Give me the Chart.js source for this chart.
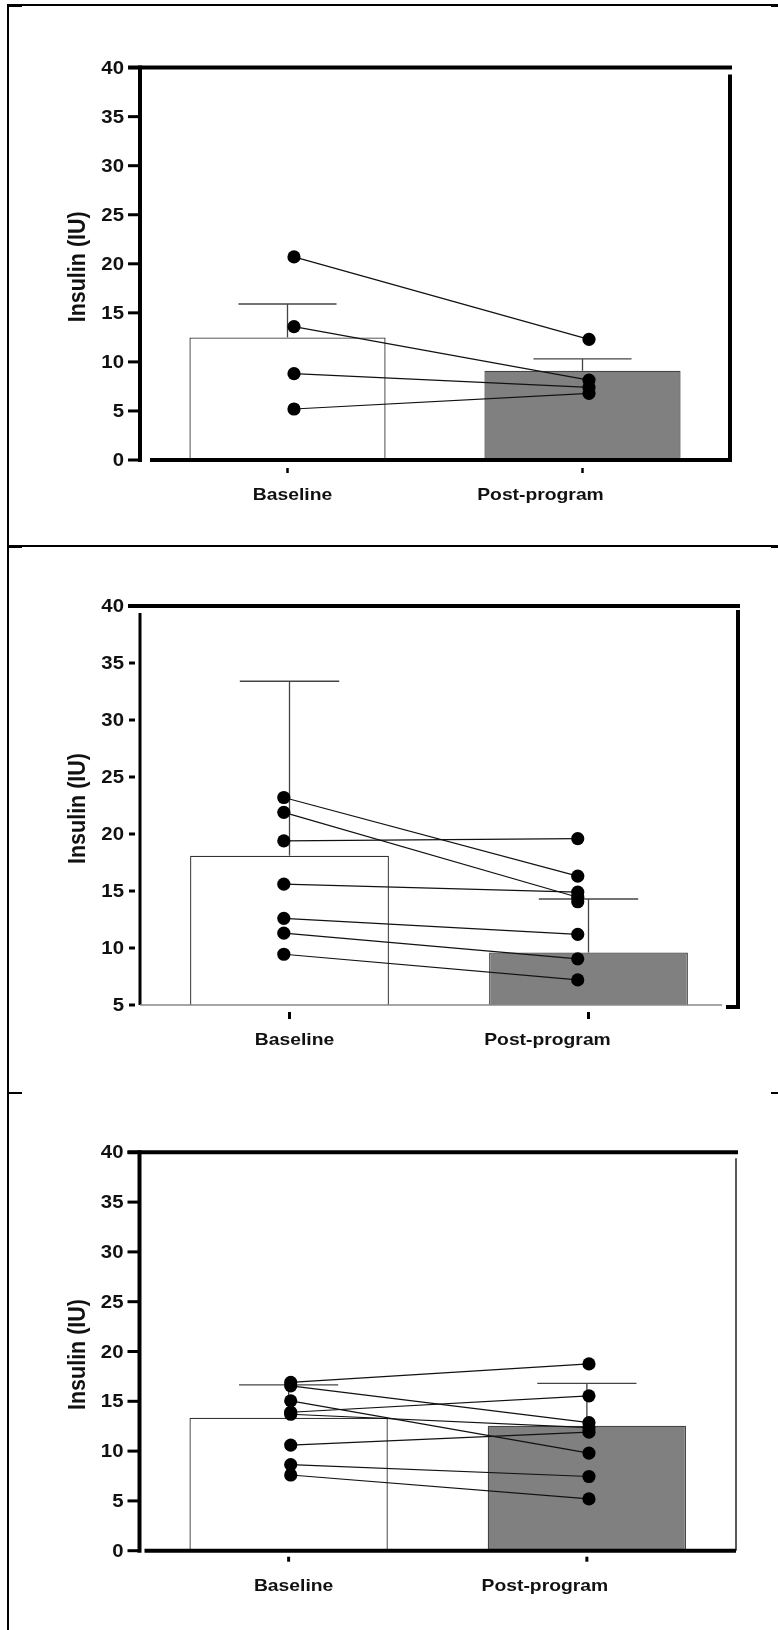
<!DOCTYPE html>
<html>
<head>
<meta charset="utf-8">
<script src="https://cdn.jsdelivr.net/npm/chart.js@4.4.1/dist/chart.umd.min.js"></script>
<style>
    html, body { margin: 0; padding: 0; background: #fff; }
    #page { position: relative; width: 778px; height: 1630px; overflow: hidden; background: #fff; }
    canvas { position: absolute; left: 0; }
    .ln { position: absolute; background: #000; z-index: 2; }
</style>
</head>
<body>
<div id="page">
    <canvas id="panel1" width="778" height="545" style="top:0px"></canvas>
    <canvas id="panel2" width="778" height="545" style="top:546px"></canvas>
    <canvas id="panel3" width="778" height="538" style="top:1092px"></canvas>

    <!-- figure frame -->
    <div class="ln" style="left:7px;top:4px;width:2px;height:1626px"></div>
    <div class="ln" style="left:7px;top:4px;width:771px;height:2px"></div>
    <div class="ln" style="left:7px;top:4px;width:15px;height:3px"></div>
    <div class="ln" style="left:771px;top:4px;width:7px;height:3px"></div>
    <div class="ln" style="left:7px;top:545px;width:771px;height:2px"></div>
    <div class="ln" style="left:7px;top:545px;width:15px;height:3px"></div>
    <div class="ln" style="left:771px;top:545px;width:7px;height:3px"></div>
    <div class="ln" style="left:7px;top:1092px;width:15px;height:2px"></div>
    <div class="ln" style="left:771px;top:1092px;width:7px;height:2px"></div>
</div>

<script>
const CATEGORIES = ['Baseline', 'Post-program'];
const Y_TITLE = 'Insulin (IU)';

// Panel 1
const P1_TICKS = [0, 5, 10, 15, 20, 25, 30, 35, 40];
const P1_MEAN = [12.5, 9.1];
const P1_SEM = [3.4, 1.2];
const P1_BASELINE = [20.7, 13.6, 8.8, 5.2];
const P1_POST = [12.3, 8.15, 7.4, 6.8];

// Panel 2
const P2_TICKS = [5, 10, 15, 20, 25, 30, 35, 40];
const P2_MEAN = [18.1, 9.6];
const P2_SEM = [15.3, 4.7];
const P2_BASELINE = [23.2, 21.9, 19.4, 15.6, 12.6, 11.3, 9.45, null];
const P2_POST = [16.3, 14.45, 19.6, 14.9, 11.2, 9.05, 7.2, 14.06];

// Panel 3
const P3_TICKS = [0, 5, 10, 15, 20, 25, 30, 35, 40];
const P3_MEAN = [13.35, 12.55];
const P3_SEM = [3.3, 4.25];
const P3_BASELINE = [16.9, 16.55, 15.05, 13.9, 13.7, 10.6, 8.65, 7.6];
const P3_POST = [18.75, 12.85, 9.8, 15.55, 12.35, 11.9, 7.45, 5.2];

const FONT = "'Liberation Sans', Arial, sans-serif";

function seg(ctx, x1, y1, x2, y2, w, color) {
    ctx.beginPath();
    ctx.lineWidth = w;
    ctx.strokeStyle = color || '#000';
    ctx.moveTo(x1, y1);
    ctx.lineTo(x2, y2);
    ctx.stroke();
}

// stretched text (the source figure is a little wider than it is tall)
function wideText(ctx, txt, x, y, sx) {
    ctx.save();
    ctx.translate(x, y);
    ctx.scale(sx, 1);
    ctx.fillText(txt, 0, 0);
    ctx.restore();
}

// axis frame, GraphPad style (each panel drawn a bit differently)
function drawFrame(chart, style) {
    const ctx = chart.ctx;
    const { left: l, right: r, top: t, bottom: b } = chart.chartArea;
    const y = chart.scales.y;
    const x = chart.scales.x;
    ctx.save();
    ctx.lineCap = 'butt';
    if (style === 'a') {
        seg(ctx, l - 12, t, r + 2, t, 4);
        seg(ctx, r, t + 7, r, b + 2, 4);
        seg(ctx, l, t - 2, l, b + 2, 4);
        seg(ctx, l + 10, b, r + 2, b, 4);
        y.ticks.forEach(tk => { const py = y.getPixelForValue(tk.value); seg(ctx, l - 12, py, l, py, 3); });
        CATEGORIES.forEach((c, i) => { const px = x.getPixelForValue(i); seg(ctx, px, b + 8, px, b + 13, 2.5); });
    } else if (style === 'b') {
        seg(ctx, l - 12, t, r + 2, t, 4);
        seg(ctx, r, t + 4, r, b + 4, 4);
        seg(ctx, r - 12, b + 2, r + 2, b + 2, 4);
        seg(ctx, l, t + 7, l, b, 3);
        seg(ctx, l, b, r - 16, b, 1.5, '#888');
        y.ticks.forEach(tk => { const py = y.getPixelForValue(tk.value); seg(ctx, l - 11, py, l - 5, py, 3); });
        CATEGORIES.forEach((c, i) => { const px = x.getPixelForValue(i); seg(ctx, px, b + 7, px, b + 14, 3); });
    } else {
        seg(ctx, l - 12, t, r + 2, t, 4);
        seg(ctx, r, t + 6, r, b, 1.5, '#222');
        seg(ctx, l, t - 2, l, b + 2, 4);
        seg(ctx, l + 5, b, r, b, 4);
        y.ticks.forEach(tk => { const py = y.getPixelForValue(tk.value); seg(ctx, l - 12, py, l, py, 3); });
        CATEGORIES.forEach((c, i) => { const px = x.getPixelForValue(i); seg(ctx, px, b + 6, px, b + 11, 3); });
    }
    ctx.restore();
}

function buildPanel(id, p) {
    const canvas = document.getElementById(id);
    const W = canvas.width, H = canvas.height;

    const pairSets = p.baseline.map((v, i) => ({
        type: 'line',
        xAxisID: 'xp',
        data: [{ x: 0 + p.shift[0], y: v }, { x: 1 + p.shift[1], y: p.post[i] }],
        borderColor: '#111',
        borderWidth: 1.2,
        pointRadius: 6.6,
        pointHoverRadius: 6.6,
        pointBackgroundColor: '#000',
        pointBorderWidth: 0,
        spanGaps: false,
        order: 1
    }));

    const errorBars = {
        id: 'errorBars',
        afterDatasetDraw(chart, args) {
            if (args.index !== 0) return;
            const ctx = chart.ctx;
            const ys = chart.scales.y;
            ctx.save();
            args.meta.data.forEach((bar, i) => {
                const top = ys.getPixelForValue(p.mean[i] + p.sem[i]);
                const half = bar.width / 4;
                seg(ctx, bar.x, bar.y, bar.x, top, 1.3, '#444');
                seg(ctx, bar.x - half, top, bar.x + half, top, 1.3, '#444');
            });
            ctx.restore();
        }
    };

    const decorations = {
        id: 'decorations',
        afterDraw(chart) {
            const ctx = chart.ctx;
            const { left: l, top: t, bottom: b } = chart.chartArea;
            drawFrame(chart, p.frame);

            // y tick labels
            const ys = chart.scales.y;
            ctx.save();
            ctx.fillStyle = '#111';
            ctx.font = 'bold 18.5px ' + FONT;
            ctx.textAlign = 'right';
            ctx.textBaseline = 'middle';
            p.ticks.forEach(v => wideText(ctx, String(v), l - 16, ys.getPixelForValue(v) + 1, 1.1));
            ctx.restore();

            // y axis title
            ctx.save();
            ctx.fillStyle = '#111';
            ctx.font = 'bold 21.5px ' + FONT;
            ctx.textAlign = 'center';
            ctx.textBaseline = 'middle';
            ctx.translate(79, (t + b) / 2 + 3);
            ctx.rotate(-Math.PI / 2);
            ctx.scale(1, 1.08);
            ctx.fillText(Y_TITLE, 0, 0);
            ctx.restore();

            // category labels
            const xs = chart.scales.x;
            ctx.save();
            ctx.fillStyle = '#111';
            ctx.font = 'bold 16.5px ' + FONT;
            ctx.textAlign = 'center';
            ctx.textBaseline = 'alphabetic';
            CATEGORIES.forEach((c, i) => {
                wideText(ctx, c, xs.getPixelForValue(i) + p.labelShift[i], b + 40, 1.17);
            });
            ctx.restore();
        }
    };

    new Chart(canvas, {
        type: 'bar',
        data: {
            labels: CATEGORIES,
            datasets: [{
                data: p.mean,
                backgroundColor: ['#ffffff', '#808080'],
                borderColor: ['#333333', '#444444'],
                borderWidth: 1.3,
                barPercentage: 0.665,
                categoryPercentage: 1,
                grouped: false,
                order: 2
            }, ...pairSets]
        },
        options: {
            responsive: false,
            animation: false,
            events: [],
            layout: {
                padding: { left: 0, top: p.area.top, right: W - p.area.right, bottom: H - p.area.bottom }
            },
            plugins: {
                legend: { display: false },
                tooltip: { enabled: false }
            },
            scales: {
                x: { type: 'category', display: false, offset: true },
                xp: { type: 'linear', display: false, offset: false, min: -0.5, max: 1.5 },
                y: {
                    min: p.ticks[0],
                    max: p.ticks[p.ticks.length - 1],
                    afterBuildTicks: s => { s.ticks = p.ticks.map(v => ({ value: v })); },
                    afterFit: s => { s.width = p.area.left; },
                    grid: { display: false, drawTicks: false },
                    border: { display: false },
                    ticks: { display: false }
                }
            }
        },
        plugins: [errorBars, decorations]
    });
}

document.addEventListener('DOMContentLoaded', function () {
    buildPanel('panel1', {
        ticks: P1_TICKS, mean: P1_MEAN, sem: P1_SEM, baseline: P1_BASELINE, post: P1_POST,
        area: { left: 140, right: 730, top: 67.6, bottom: 460 },
        shift: [0.022, 0.022], labelShift: [5, -42], frame: 'a'
    });
    buildPanel('panel2', {
        ticks: P2_TICKS, mean: P2_MEAN, sem: P2_SEM, baseline: P2_BASELINE, post: P2_POST,
        area: { left: 140, right: 738, top: 60, bottom: 459 },
        shift: [-0.019, -0.036], labelShift: [5, -41], frame: 'b'
    });
    buildPanel('panel3', {
        ticks: P3_TICKS, mean: P3_MEAN, sem: P3_SEM, baseline: P3_BASELINE, post: P3_POST,
        area: { left: 139.5, right: 736, top: 60.3, bottom: 458.7 },
        shift: [0.007, 0.007], labelShift: [5, -42], frame: 'c'
    });
});
</script>
</body>
</html>
